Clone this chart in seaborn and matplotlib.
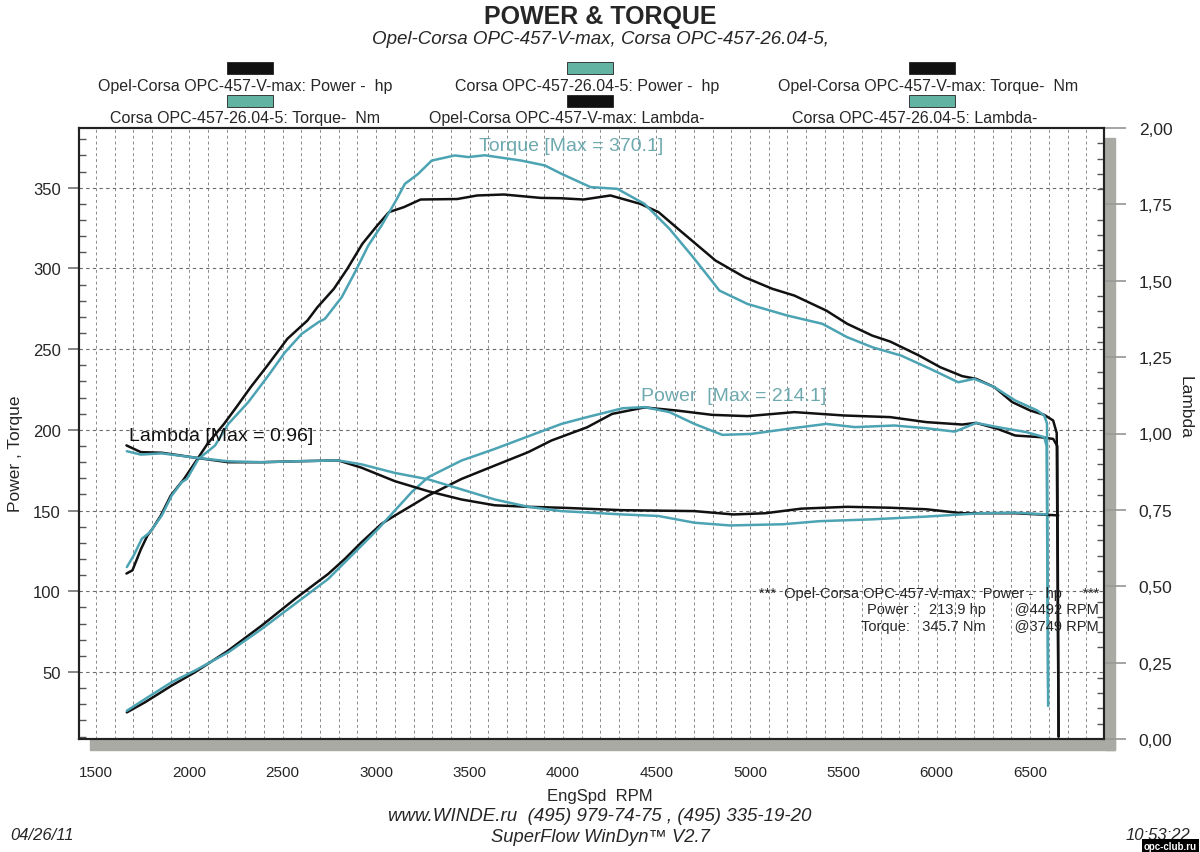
import numpy as np
import pandas as pd
import matplotlib
matplotlib.use('Agg')
import matplotlib.pyplot as plt
import matplotlib.ticker as mticker
from matplotlib.patches import Rectangle
import seaborn as sns

# Opel-Corsa OPC-457-V-max (black)
vmax_torque_rpm = [1664, 1696, 1741, 1776, 1803, 1848, 1901, 1972, 2044, 2097, 2186, 2258, 2329, 2418,
                   2525, 2632, 2686, 2774, 2846, 2926, 3006, 3069, 3149, 3238, 3434, 3541, 3684, 3880,
                   3987, 4110, 4254, 4414, 4511, 4626, 4816, 4971, 5120, 5238, 5409, 5521, 5655, 5751,
                   5906, 6019, 6136, 6211, 6308, 6404, 6500, 6575, 6623, 6642, 6652]
vmax_torque = [111, 113, 126, 134.5, 138.7, 147, 159.3, 169.6, 182, 191.3, 203.7, 215, 226.5, 239.8,
               256.4, 267.7, 276, 287.4, 299.8, 315.2, 326.6, 334.9, 338, 342.7, 343, 345.2, 345.8, 343.7,
               343.5, 342.7, 345.2, 340, 334.9, 323.5, 304.9, 294.6, 287.4, 283.2, 273.9, 265.7, 258.4, 254.7,
               246, 238.8, 233.3, 231.6, 226.5, 217.2, 212, 209.3, 205.8, 198, 10]

vmax_power_rpm = [1666, 1764, 1906, 2031, 2209, 2388, 2566, 2744, 2833, 2922, 3029, 3100, 3190, 3279,
                  3457, 3635, 3814, 3938, 4129, 4263, 4436, 4607, 4798, 4987, 5238, 5505, 5751, 5944,
                  6136, 6211, 6326, 6420, 6553, 6623, 6645, 6652]
vmax_power = [25, 31.3, 41.6, 49.9, 63.3, 78.8, 95.3, 110.8, 120.1, 130.4, 141.8, 146.9, 153.1, 159.3,
              169.6, 177.9, 186.2, 193.4, 201.6, 209.9, 213.9, 212, 209.3, 208.5, 211, 208.9, 207.9, 204.8,
              203.3, 204.3, 200.6, 196.5, 195.5, 194.4, 190, 10]

vmax_lambda_rpm = [1664, 1741, 1853, 2031, 2209, 2388, 2566, 2797, 2922, 3100, 3279, 3457, 3635, 3814,
                   3992, 4318, 4703, 4912, 5083, 5275, 5521, 5751, 5944, 6136, 6420, 6650]
vmax_lambda = [0.961, 0.939, 0.937, 0.921, 0.906, 0.906, 0.909, 0.912, 0.888, 0.844, 0.811, 0.784, 0.765, 0.760,
               0.757, 0.749, 0.746, 0.735, 0.739, 0.754, 0.760, 0.757, 0.752, 0.739, 0.739, 0.732]

# Corsa OPC-457-26.04-5 (teal)
c26_torque_rpm = [1666, 1702, 1746, 1790, 1853, 1906, 1960, 1987, 2049, 2138, 2209, 2316, 2423, 2512,
                  2602, 2691, 2726, 2816, 2887, 2958, 3029, 3101, 3154, 3225, 3297, 3421, 3493, 3582,
                  3778, 3903, 3992, 4147, 4291, 4436, 4570, 4703, 4837, 4987, 5201, 5388, 5521, 5655,
                  5810, 5965, 6115, 6200, 6308, 6420, 6538, 6575, 6590, 6596]
c26_torque = [115, 122, 132.5, 136.6, 147, 159.3, 167.6, 169.6, 182, 190.3, 203.7, 217.2, 233.6, 248,
              259.5, 266.7, 268.8, 282.2, 297.7, 314.2, 326.6, 341, 352.4, 358.6, 366.8, 370, 369, 370.1,
              366.8, 363.8, 358.6, 350.4, 349.3, 340, 324.5, 306, 286.3, 278, 270.8, 265.7, 257.4, 251.2,
              246, 237.8, 229.5, 231.6, 226.5, 218.2, 212, 208.9, 204, 29]

c26_power_rpm = [1666, 1764, 1906, 2031, 2209, 2388, 2566, 2744, 2833, 2922, 3011, 3100, 3190, 3279,
                 3457, 3635, 3814, 3992, 4129, 4320, 4436, 4570, 4703, 4853, 5008, 5201, 5409, 5562,
                 5773, 5944, 6097, 6211, 6326, 6479, 6575, 6588, 6596]
c26_power = [26, 33.3, 43.7, 50.9, 62.2, 76.7, 92.2, 107.7, 118, 128.3, 138.7, 150, 161.4, 170.7,
             181, 188.2, 196, 203.7, 207.9, 213.4, 214.1, 211, 203.7, 196.9, 197.5, 200.6, 203.7, 201.7,
             202.7, 201, 198.9, 204.3, 201.7, 198.6, 195.5, 190, 40]

c26_lambda_rpm = [1666, 1741, 1853, 2031, 2209, 2388, 2566, 2797, 2922, 3100, 3279, 3457, 3635, 3814,
                  3992, 4318, 4511, 4703, 4894, 5179, 5372, 5655, 5944, 6233, 6420, 6591]
c26_lambda = [0.942, 0.931, 0.935, 0.921, 0.909, 0.906, 0.909, 0.912, 0.899, 0.871, 0.850, 0.817, 0.784, 0.760,
              0.746, 0.735, 0.730, 0.708, 0.699, 0.703, 0.713, 0.719, 0.728, 0.739, 0.741, 0.735]

x_ticks = [1500, 2000, 2500, 3000, 3500, 4000, 4500, 5000, 5500, 6000, 6500]
left_ticks = [50, 100, 150, 200, 250, 300, 350]
right_ticks = [0, 0.25, 0.5, 0.75, 1.0, 1.25, 1.5, 1.75, 2.0]

legend_labels = ['Opel-Corsa OPC-457-V-max: Power -  hp', 'Corsa OPC-457-26.04-5: Power -  hp',
                 'Opel-Corsa OPC-457-V-max: Torque-  Nm', 'Corsa OPC-457-26.04-5: Torque-  Nm',
                 'Opel-Corsa OPC-457-V-max: Lambda-', 'Corsa OPC-457-26.04-5: Lambda-']

BLACK = '#111111'
TEAL = '#4ba3b3'
TEAL_TXT = '#6ea9af'
SWATCH = '#63b3a2'

sns.set_theme(style='white')
NARROW = ['Liberation Sans Narrow', 'Liberation Sans', 'DejaVu Sans']
REG = ['Liberation Sans', 'DejaVu Sans']
plt.rcParams['font.family'] = REG

fig = plt.figure(figsize=(12, 8.53), dpi=100)
W, H = 1200, 853
ax = fig.add_axes([79 / W, 1 - 740 / H, (1104 - 79) / W, (740 - 129) / H])
ax2 = ax.twinx()

# shadow strips around the frame
fig.add_artist(Rectangle((1105 / W, 1 - 751 / H), 10 / W, (751 - 139) / H, transform=fig.transFigure,
                         color='#a9aaa3', zorder=0))
fig.add_artist(Rectangle((90 / W, 1 - 751 / H), (1115 - 90) / W, 10 / H, transform=fig.transFigure,
                         color='#a9aaa3', zorder=0))

curves = [(vmax_torque_rpm, vmax_torque, BLACK, ax), (vmax_power_rpm, vmax_power, BLACK, ax),
          (c26_torque_rpm, c26_torque, TEAL, ax), (c26_power_rpm, c26_power, TEAL, ax),
          (vmax_lambda_rpm, vmax_lambda, BLACK, ax2), (c26_lambda_rpm, c26_lambda, TEAL, ax2)]
for xs, ys, col, a in curves:
    df = pd.DataFrame({'rpm': xs, 'val': ys})
    sns.lineplot(data=df, x='rpm', y='val', ax=a, color=col, lw=1.8, sort=False, estimator=None)

ax.set_xlim(1410, 6895)
ax.set_ylim(8.5, 387)
ax2.set_ylim(0, 2)

ax.set_xticks(x_ticks)
ax.xaxis.set_minor_locator(mticker.MultipleLocator(100))
ax.set_yticks(left_ticks)
ax.yaxis.set_minor_locator(mticker.MultipleLocator(10))
ax2.set_yticks(right_ticks)
ax2.set_yticklabels([f'{v:.2f}'.replace('.', ',') for v in right_ticks])
ax2.yaxis.set_minor_locator(mticker.MultipleLocator(0.05))

ax.grid(False)
ax2.grid(False)
for xv in np.arange(1500, 6900, 100):
    ax.axvline(xv, color='#8a8a8a', lw=0.7, ls=(0, (3, 3)), zorder=0)
for yv in left_ticks:
    ax.axhline(yv, color='#6a6a6a', lw=0.8, ls=(0, (3, 3)), zorder=0)

ax.tick_params(axis='x', which='both', length=0, pad=19, labelsize=11)
ax.tick_params(axis='y', which='major', direction='out', length=8, color='#777777', pad=5, labelsize=12)
ax.tick_params(axis='y', which='minor', direction='in', length=5, color='#555555', left=True)
ax2.tick_params(axis='y', which='major', direction='out', length=16, color='#999999', pad=9, labelsize=12.5)
ax2.tick_params(axis='y', which='minor', direction='in', length=5, color='#555555', right=True)
for lab in ax.get_xticklabels():
    lab.set_family(NARROW)

for a in (ax, ax2):
    for s in a.spines.values():
        s.set_color('#222222')
        s.set_linewidth(1.5)

ax.set_xlabel('')
ax.set_ylabel('Power , Torque', fontsize=12.5, labelpad=2)
ax.yaxis.set_label_coords(-0.055, 0.468)
ax2.set_ylabel('Lambda', fontsize=12.5, rotation=270, labelpad=12)
ax2.yaxis.set_label_coords(1.086, 0.545)

# in-plot annotations
ax.text(3553, 376, 'Torque [Max = 370.1]', color=TEAL_TXT, fontsize=14, va='center', ha='left')
ax.text(4420, 221, 'Power  [Max = 214.1]', color=TEAL_TXT, fontsize=14, va='center', ha='left')
ax.text(1676, 196.5, 'Lambda [Max = 0.96]', color=BLACK, fontsize=14, va='center', ha='left')
ax.text(6868, 99, '***  Opel-Corsa OPC-457-V-max:  Power -   hp     ***', fontsize=10.5, ha='right', va='center')
ax.text(6868, 89, 'Power :   213.9 hp       @4492 RPM', fontsize=10.5, ha='right', va='center')
ax.text(6868, 78.6, 'Torque:   345.7 Nm       @3749 RPM', fontsize=10.5, ha='right', va='center')

# header
fig.text(0.5, 1 - 17 / H, 'POWER & TORQUE', ha='center', va='center', fontsize=18, weight='bold', family=NARROW)
fig.text(0.5, 1 - 40 / H, 'Opel-Corsa OPC-457-V-max, Corsa OPC-457-26.04-5,', ha='center', va='center',
         fontsize=13.5, style='italic', family=NARROW)

legend_pos = [(250, 69, 245, 86), (590, 69, 587, 86), (932, 69, 928, 86),
              (250, 102, 245, 119), (590, 102, 567, 119), (932, 102, 915, 119)]
legend_cols = [BLACK, SWATCH, BLACK, SWATCH, BLACK, SWATCH]
for (sx, sy, tx, ty), col, lab in zip(legend_pos, legend_cols, legend_labels):
    fig.add_artist(Rectangle(((sx - 23) / W, 1 - (sy + 6) / H), 46 / W, 12 / H, transform=fig.transFigure,
                             facecolor=col, edgecolor='#222222', lw=0.6))
    fig.text(tx / W, 1 - ty / H, lab, ha='center', va='center', fontsize=11.5, family=NARROW)

# footer
fig.text(0.5, 1 - 797 / H, 'EngSpd  RPM', ha='center', va='center', fontsize=12, family=NARROW)
fig.text(0.5, 1 - 817 / H, 'www.WINDE.ru  (495) 979-74-75 , (495) 335-19-20', ha='center', va='center',
         fontsize=13.5, style='italic', family=NARROW)
fig.text(0.5, 1 - 838 / H, 'SuperFlow WinDyn\u2122 V2.7', ha='center', va='center', fontsize=13.2,
         style='italic', family=NARROW)
fig.text(10 / W, 1 - 836 / H, '04/26/11', ha='left', va='center', fontsize=12, style='italic', family=NARROW)
fig.text(1190 / W, 1 - 836 / H, '10:53:22', ha='right', va='center', fontsize=12, style='italic', family=NARROW)
fig.text(1197 / W, 1 - 847 / H, 'opc-club.ru', ha='right', va='center', fontsize=7, color='white',
         weight='bold', bbox=dict(facecolor='black', edgecolor='none', pad=1.5))

fig.savefig('out.png', dpi=100)
